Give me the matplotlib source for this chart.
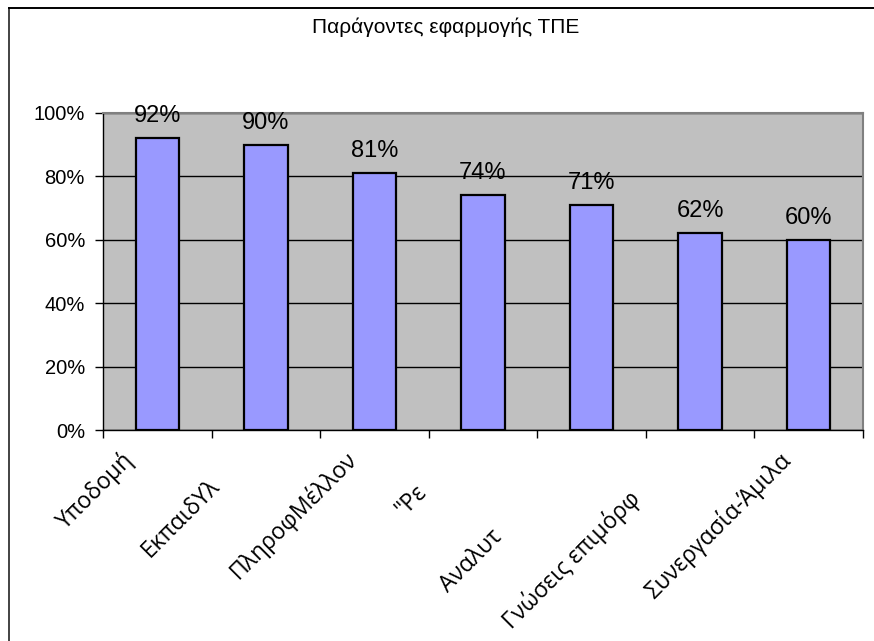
import numpy as np
import matplotlib
matplotlib.use("Agg")
import matplotlib.pyplot as plt
from matplotlib.lines import Line2D

# factor names (as they show up on the axis) and share of answers, in %
factors = ["Υποδομή", "ΕκπαιδΥλ", "ΠληροφΜέλλον", "\"Ρε", "Αναλυτ",
           "Γνώσεις επιμόρφ", "Συνεργασία-Άμιλα"]
shares = [92, 90, 81, 74, 71, 62, 60]
yticks = [0, 20, 40, 60, 80, 100]
title = "Παράγοντες εφαρμογής ΤΠΕ"

# where each rotated name starts, in pixels from the bottom of its category
name_shift = [(-92, -100), (-116, -128), (-136, -150), (-80, -87),
              (-144, -163), (-188, -200), (-155, -170)]

arial = "Liberation Sans"

fig = plt.figure(figsize=(8.74, 6.41), dpi=100)
ax = fig.add_axes([103 / 874, 1 - 430 / 641, 760 / 874, 317 / 641])
ax.set_facecolor("#C0C0C0")

x = np.arange(len(factors))
bars = ax.bar(x, shares, width=0.4, color="#9999FF", edgecolor="black",
              linewidth=1.6, zorder=3)
ax.bar_label(bars, labels=[f"{v}%" for v in shares], padding=8,
             fontsize=17, family=arial, zorder=4)

ax.set_ylim(0, 100)
ax.set_xlim(-0.5, len(factors) - 0.5)
ax.set_yticks(yticks)
ax.set_yticklabels([f"{v}%" for v in yticks], fontsize=14.5, family=arial)
ax.yaxis.grid(True, color="black", linewidth=1.0, zorder=1)

# category boundaries get the ticks, names are drawn separately
ax.set_xticks(np.arange(-0.5, len(factors)))
ax.set_xticklabels([])
ax.tick_params(axis="both", direction="out", length=6, width=1, color="black")
ax.tick_params(axis="y", pad=7)

for side in ["top", "right"]:
    ax.spines[side].set_color("#808080")
    ax.spines[side].set_linewidth(1.5)
for side in ["left", "bottom"]:
    ax.spines[side].set_color("black")
    ax.spines[side].set_linewidth(1.0)

for i, name in enumerate(factors):
    ax.annotate(name, xy=(i, 0), xycoords=("data", "axes fraction"),
                xytext=name_shift[i], textcoords="offset pixels",
                rotation=45, rotation_mode="anchor", ha="left",
                va="baseline", fontsize=16.5, family="Open Sans")

fig.text(446 / 874, 1 - 33 / 641, title, ha="center", va="baseline",
         fontsize=15, family=arial)

# outer frame of the chart area
fx, fy = 8.5 / 874, 1 - 7.5 / 641
fig.add_artist(Line2D([fx, fx], [0, fy], color="#222222", linewidth=1.2))
fig.add_artist(Line2D([fx, 1], [fy, fy], color="black", linewidth=1.4))

fig.savefig("out.png", dpi=100)
